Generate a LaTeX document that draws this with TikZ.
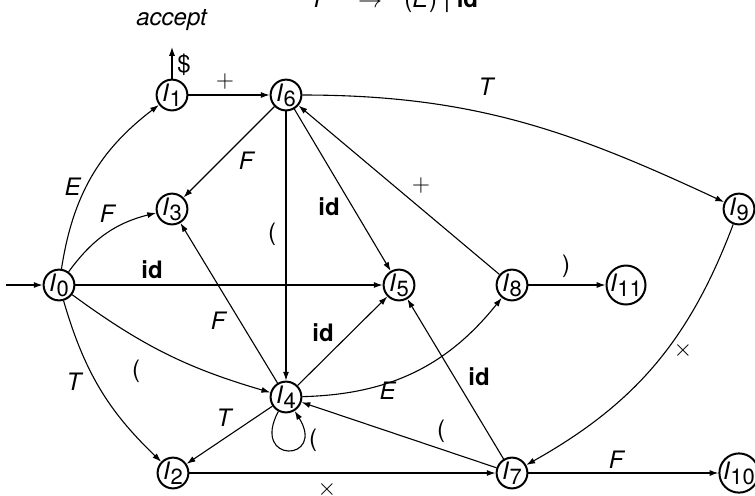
\documentclass[tikz,border=0pt]{standalone}
\usepackage{fontspec}
\setmainfont{TeX Gyre Heros}
\usetikzlibrary{arrows.meta}
\newcommand{\Ist}[1]{\textit{I}\kern0.1pt\raisebox{-2.5pt}{\fontsize{11}{11}\selectfont #1}}
\tikzset{
  st/.style={circle, draw, line width=1pt, minimum size=15.4pt, inner sep=0pt, font=\fontsize{12}{12}\selectfont},
  tr/.style={-{Latex[length=4.4pt,width=3pt]}, line width=0.55pt},
  lbl/.style={font=\fontsize{12}{12}\selectfont, inner sep=0pt},
}
\begin{document}
\begin{tikzpicture}[x=0.5pt,y=-0.5pt]
\useasboundingbox (0,0) rectangle (755,495);
% partially visible heading
\node[lbl, anchor=base] (hF) at (322,7) {\textit{F}};
\node[lbl, anchor=base] (hA) at (370,7) {$\rightarrow$};
\node[lbl, anchor=base west] (hR) at (404,7) {(\textit{E}) | \textbf{id}};
% states
\node[st] (I0) at (59,285) {\Ist{0}};
\node[st] (I1) at (172,95) {\Ist{1}};
\node[st] (I6) at (286,95) {\Ist{6}};
\node[st] (I3) at (172,209) {\Ist{3}};
\node[st] (I5) at (399,285) {\Ist{5}};
\node[st] (I8) at (512,285) {\Ist{8}};
\node[st] (I11) at (626,285) {\Ist{11}};
\node[st] (I9) at (739,209) {\Ist{9}};
\node[st] (I4) at (286,397) {\Ist{4}};
\node[st] (I2) at (173,473) {\Ist{2}};
\node[st] (I7) at (512,473) {\Ist{7}};
\node[st] (I10) at (739,473) {\Ist{10}};
\coordinate (start) at (6,285);
\coordinate (acc) at (172,47);
\node[lbl, anchor=base] (accept) at (172,25) {\textit{accept}};
% transitions
\draw[tr] (start) -- (I0);
\draw[tr] (I0) to[bend left=22] (I1);
\draw[tr] (I0) to[bend left=20] (I3);
\draw[tr] (I0) -- (I5);
\draw[tr] (I0) to[bend right=10] (I4);
\draw[tr] (I0) to[bend right=15] (I2);
\draw[tr] (I1) -- (I6);
\draw[tr] (I1) -- (acc);
\draw[tr] (I6) -- (I3);
\draw[tr] (I6) -- (I4);
\draw[tr] (I6) -- (I5);
\draw[tr] (I6) to[out=0,in=155] (I9);
\draw[tr] (I8) -- (I6);
\draw[tr] (I8) -- (I11);
\draw[tr] (I9) to[bend left=20] (I7);
\draw[tr] (I4) -- (I3);
\draw[tr] (I4) -- (I5);
\draw[tr] (I4) to[bend right=25] (I8);
\draw[tr] (I4) -- (I2);
\draw[tr] (I4.-118) .. controls +(-118:30pt) and +(-58:30pt) .. (I4.-58);
\draw[tr] (I2) -- (I7);
\draw[tr] (I7) -- (I4);
\draw[tr] (I7) -- (I5);
\draw[tr] (I7) -- (I10);
% labels
\node[lbl] (lE1) at (73,187) {\textit{E}};
\node[lbl] (lF1) at (108,214) {\textit{F}};
\node[lbl] (lid1) at (152,270) {\textbf{id}};
\node[lbl] (lp1) at (136,371) {(};
\node[lbl] (lT1) at (75,382) {\textit{T}};
\node[lbl] (lplus1) at (225,81) {$+$};
\node[lbl] (ldollar) at (184,65) {\$};
\node[lbl] (lF2) at (247,161) {\textit{F}};
\node[lbl] (lp2) at (272,234) {(};
\node[lbl] (lid2) at (329,207) {\textbf{id}};
\node[lbl] (lT2) at (487,87) {\textit{T}};
\node[lbl] (lplus2) at (421,185) {$+$};
\node[lbl] (lrp) at (566,266) {)};
\node[lbl] (ltimes1) at (683,350) {$\times$};
\node[lbl] (lF3) at (219,321) {\textit{F}};
\node[lbl] (lid3) at (323,333) {\textbf{id}};
\node[lbl] (lE2) at (388,391) {\textit{E}};
\node[lbl] (lT3) at (225,418) {\textit{T}};
\node[lbl] (lp3) at (313,440) {(};
\node[lbl] (ltimes2) at (327,489) {$\times$};
\node[lbl] (lp4) at (441,431) {(};
\node[lbl] (lid4) at (479,377) {\textbf{id}};
\node[lbl] (lF4) at (617,460) {\textit{F}};
\end{tikzpicture}
\end{document}
